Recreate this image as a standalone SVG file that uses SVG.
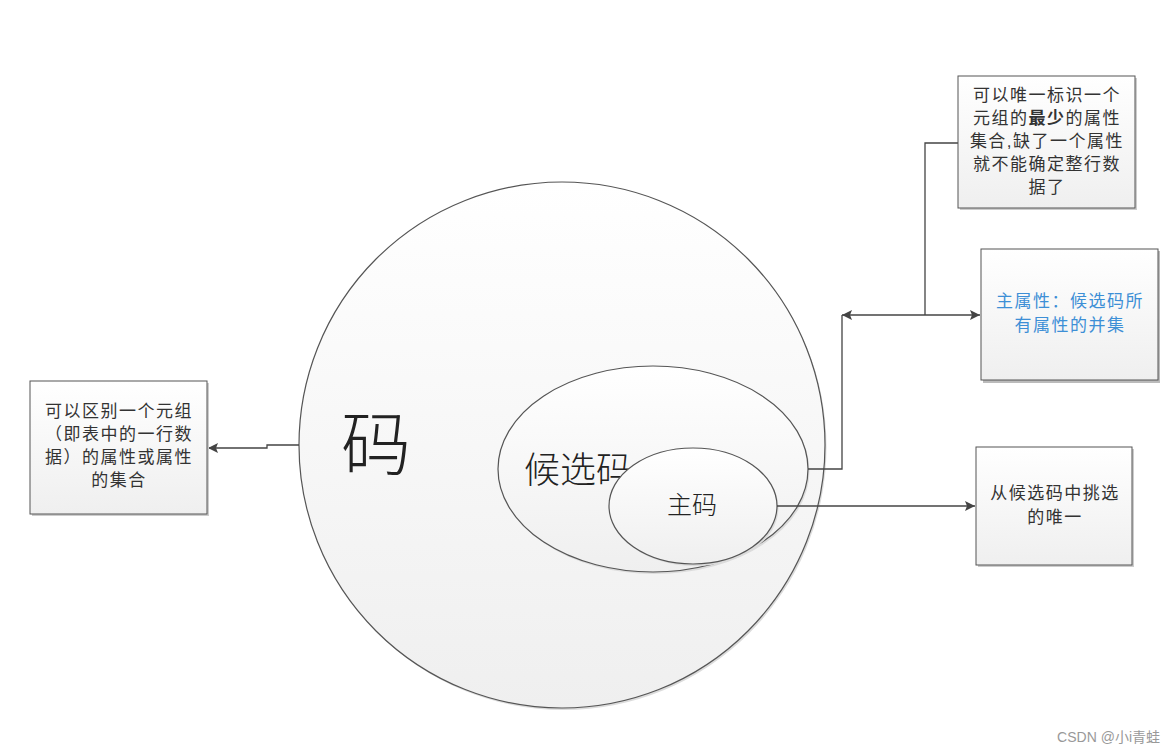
<svg xmlns="http://www.w3.org/2000/svg" width="1175" height="754" viewBox="0 0 1175 754">
<style>
.t{font-family:"Liberation Sans","Noto Sans CJK SC",sans-serif;font-size:17px;letter-spacing:1.5px;fill:#333;text-anchor:middle}
.blue{fill:#3d8fd6}
.box{fill:url(#bg);stroke:#555;stroke-width:1}
.sh{fill:#ccc}
.sh2{fill:#bbb}
.ell{fill:url(#eg);stroke:#555;stroke-width:1.2}
.ln{fill:none;stroke:#444;stroke-width:1.3}
.big{font-family:"Noto Sans CJK SC",sans-serif;font-weight:300;fill:#222;text-anchor:middle}
</style>
<defs>
<linearGradient id="bg" x1="0" y1="0" x2="0" y2="1"><stop offset="0" stop-color="#ffffff"/><stop offset="1" stop-color="#efefef"/></linearGradient>
<linearGradient id="eg" x1="0" y1="0" x2="0" y2="1"><stop offset="0" stop-color="#ffffff"/><stop offset="1" stop-color="#efefef"/></linearGradient>
<marker id="ar" viewBox="0 0 10 10" refX="10" refY="5" markerWidth="10" markerHeight="10" markerUnits="userSpaceOnUse" orient="auto-start-reverse"><path d="M0,0 L10,5 L0,10 L2,5 z" fill="#444"/></marker>
</defs>
<rect width="1175" height="754" fill="#fff"/>
<g id="n-ma">
<circle cx="562" cy="445" r="263" fill="#dcdcdc" transform="translate(1.5,2)"/>
<circle cx="562" cy="445" r="263" class="ell"/>
<text x="376" y="470" class="big" font-size="70">码</text>
</g>
<g id="n-houxuan">
<ellipse cx="653" cy="469" rx="155" ry="103" fill="#dcdcdc" transform="translate(1.5,2)"/>
<ellipse cx="653" cy="469" rx="155" ry="103" class="ell"/>
<text x="578" y="483" class="big" font-size="36" fill="#333">候选码</text>
</g>
<g id="n-zhuma">
<ellipse cx="693" cy="506" rx="84" ry="58" fill="#dcdcdc" transform="translate(1.5,2)"/>
<ellipse cx="693" cy="506" rx="84" ry="58" class="ell"/>
<text x="692" y="514" class="big" font-size="25" fill="#333">主码</text>
</g>
<g id="connectors">
<polyline class="ln" points="299,445 267,445 267,448 208,448" marker-end="url(#ar)"/>
<polyline class="ln" points="808,469 842,469 842,315"/>
<line class="ln" x1="842" y1="315" x2="980" y2="315" marker-start="url(#ar)" marker-end="url(#ar)"/>
<polyline class="ln" points="958,143 925,143 925,315"/>
<line class="ln" x1="777" y1="506" x2="975" y2="506" marker-end="url(#ar)"/>
</g>
<g id="n-left">
<rect x="32" y="383" width="177" height="133" class="sh"/>
<rect x="30" y="381" width="177" height="133" class="box"/>
<text class="t"><tspan x="119" y="417">可以区别一个元组</tspan><tspan x="119" y="440">（即表中的一行数</tspan><tspan x="119" y="463">据）的属性或属性</tspan><tspan x="119" y="486">的集合</tspan></text>
</g>
<g id="n-top">
<rect x="960" y="78" width="177" height="132" class="sh"/>
<rect x="958" y="76" width="177" height="132" class="box"/>
<text class="t"><tspan x="1047" y="101">可以唯一标识一个</tspan><tspan x="1047" y="124">元组的<tspan font-weight="bold">最少</tspan>的属性</tspan><tspan x="1047" y="147">集合,缺了一个属性</tspan><tspan x="1047" y="170">就不能确定整行数</tspan><tspan x="1047" y="193">据了</tspan></text>
</g>
<g id="n-mid">
<rect x="983" y="251" width="177" height="132" class="sh2"/>
<rect x="981" y="249" width="177" height="131" class="box" stroke="#333" stroke-width="1.5"/>
<text class="t blue"><tspan x="1070" y="307">主属性：候选码所</tspan><tspan x="1070" y="331">有属性的并集</tspan></text>
</g>
<g id="n-bottom">
<rect x="978" y="449" width="156" height="118" class="sh"/>
<rect x="976" y="447" width="156" height="118" class="box"/>
<text class="t"><tspan x="1055" y="499">从候选码中挑选</tspan><tspan x="1055" y="523">的唯一</tspan></text>
</g>
<text x="1160" y="742" font-family="Liberation Sans,'Noto Sans CJK SC',sans-serif" font-size="14" fill="#999" text-anchor="end">CSDN @小i青蛙</text>
</svg>
